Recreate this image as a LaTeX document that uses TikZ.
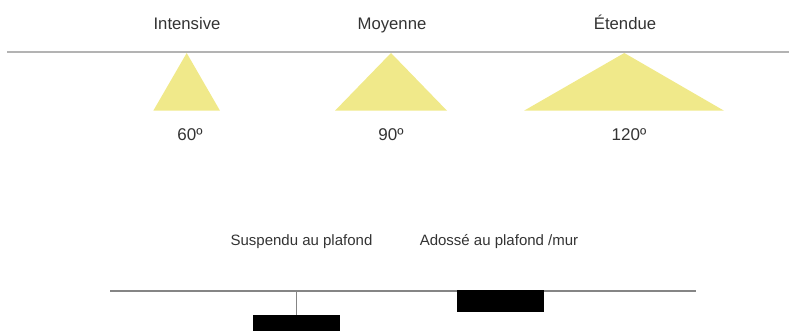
\documentclass[tikz,border=0pt]{standalone}
\usepackage{fontspec}
\setmainfont{Liberation Sans}
\usetikzlibrary{positioning}
\definecolor{beamcol}{HTML}{F0E98A}
\definecolor{txtcol}{HTML}{333333}
\definecolor{ceilA}{HTML}{B3B3B3}
\definecolor{ceilB}{HTML}{858585}

\begin{document}
\begin{tikzpicture}[x=1pt,y=-1pt,
every node/.style={text=txtcol,inner sep=0pt},
title/.style={font=\fontsize{16.7}{19}\selectfont,anchor=base},
angle/.style={font=\fontsize{17}{19}\selectfont,anchor=base},
mount/.style={font=\fontsize{15}{17}\selectfont,anchor=base},
beam/.style={fill=beamcol},
lamp/.style={fill=black,minimum width=87pt,minimum height=22pt}]
\useasboundingbox (0,0) rectangle (789,331);
% top: beam angles
\node[title] (T1) at (187,29.5) {Intensive};
\node[title] (T2) at (392,29.5) {Moyenne};
\node[title] (T3) at (625,29.5) {Étendue};
\coordinate (L1) at (7,52);
\coordinate (L2) at (789,52);
\draw[ceilA,line width=1.6pt] (L1)--(L2);
\fill[beam] (186.7,53)--(220,110.7)--(153.3,110.7)--cycle;
\fill[beam] (391,53)--(447,110.7)--(335,110.7)--cycle;
\fill[beam] (624.3,53)--(724,110.7)--(524,110.7)--cycle;
\node[angle] (A1) at (190,140.5) {60º};
\node[angle] (A2) at (391,140.5) {90º};
\node[angle] (A3) at (629,140.5) {120º};
% bottom: mounting
\node[mount] (M1) at (301.5,245.5) {Suspendu au plafond};
\node[mount] (M2) at (499,245.5) {Adossé au plafond /mur};
\coordinate (C1) at (110,291);
\coordinate (C2) at (696,291);
\draw[ceilB,line width=1.5pt] (C1)--(C2);
\node[lamp,anchor=north] (S1) at (296.5,314.7) {};
\node[lamp,anchor=north] (S2) at (500.5,290) {};
\coordinate (H1) at (296.5,291);
\draw[ceilB,line width=1.3pt] (H1)--(S1.north);
\end{tikzpicture}
\end{document}
